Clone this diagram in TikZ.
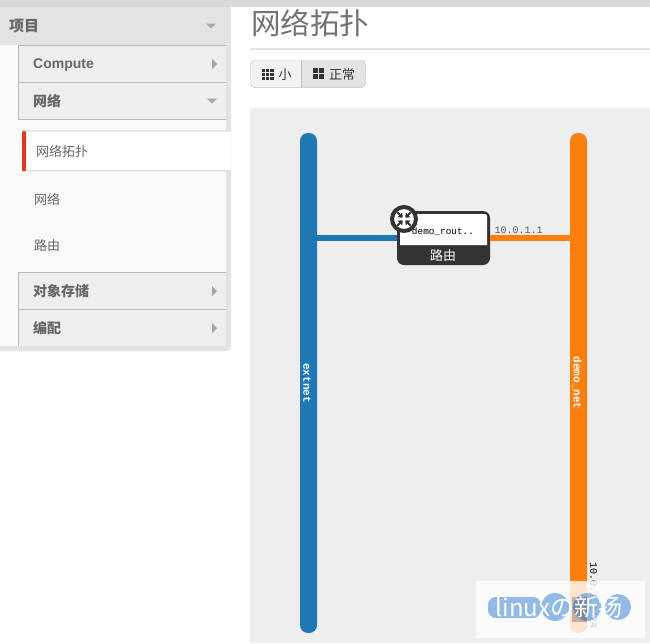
\documentclass[tikz,border=0pt]{standalone}
\usepackage{fontspec}
\setmainfont{Liberation Sans}
\setmonofont{Liberation Mono}
\newfontfamily\cjk{Noto Sans CJK SC}
\usetikzlibrary{positioning}
\definecolor{netblue}{HTML}{1F77B4}
\definecolor{netorange}{HTML}{FF7F0E}
\definecolor{panelgrey}{HTML}{E3E3E3}
\definecolor{rowgrey}{HTML}{EEEEEE}
\definecolor{rowline}{HTML}{B8B8B8}
\definecolor{routerdark}{HTML}{333333}
\definecolor{menutext}{HTML}{666666}
\definecolor{activered}{HTML}{DC3A20}
\definecolor{glowblue}{HTML}{3F86D6}
\tikzset{
	menurow/.style={fill=rowgrey,minimum width=208pt,minimum height=37pt,inner sep=0pt},
	rowedge/.style={draw=rowline,line width=0.9pt},
	menubold/.style={font=\cjk\bfseries\fontsize{14}{14}\selectfont,text=menutext,anchor=west,inner sep=0pt},
	menuitem/.style={font=\cjk\fontsize{13}{13}\selectfont,text=menutext,anchor=west,inner sep=0pt},
	netbar/.style={rounded corners=8pt,minimum width=17pt,minimum height=500pt,inner sep=0pt},
	netname/.style={rotate=-90,text=white,font=\ttfamily\bfseries\fontsize{11}{11}\selectfont,inner sep=0pt},
	arrowgrey/.style={fill=black!35},
}
\begin{document}
\begin{tikzpicture}[x=1pt,y=-1pt]
\useasboundingbox (0,0) rectangle (650,643);
\fill[white] (0,0) rectangle (650,643);
\fill[black!15] (0,0) rectangle (650,7);

% side panel
\fill[panelgrey] (0,7) -- (231,7) [rounded corners=5pt] -- (231,351) [sharp corners] -- (0,351) -- cycle;
\fill[black!2] (0,45) rectangle (226,346);
\node[menubold,font=\cjk\bfseries\fontsize{15}{15}\selectfont] (project) at (9,26.5) {项目};
\node[menurow,anchor=north west] (compute) at (18,45) {};
\node[menurow,anchor=north west] (network) at (18,82) {};
\node[menurow,anchor=north west] (storage) at (18,272) {};
\node[menurow,anchor=north west] (orchestration) at (18,309) {};
\foreach \rowname in {compute,network,storage}
	\draw[rowedge] (\rowname.north east) -- (\rowname.north west) -- (\rowname.south west) -- (\rowname.south east);
\draw[rowedge] (orchestration.north east) -- (orchestration.north west) -- (orchestration.south west);
\node[menubold,font=\bfseries\fontsize{14}{14}\selectfont] (computetext) at (33,65.5) {Compute};
\node[menubold] (networktext) at (33,101.5) {网络};
\node[menubold] (storagetext) at (33,291.5) {对象存储};
\node[menubold] (orchtext) at (33,328.5) {编配};

% active entry
\fill[white] (22,131) rectangle (231,170);
\fill[panelgrey] (22,130) rectangle (231,131.6) (22,170) rectangle (231,171.6);
\fill[activered,rounded corners=1pt] (22,131) rectangle (26,171);
\node[menuitem] (topology) at (36,151.5) {网络拓扑};
\node[menuitem] (networks) at (34,199.5) {网络};
\node[menuitem] (routers) at (34,245.5) {路由};

% little arrows
\fill[arrowgrey] (206,23.5) -- (216,23.5) -- (211,28.5) -- cycle;
\fill[arrowgrey] (207,98.5) -- (217,98.5) -- (212,103.5) -- cycle;
\foreach \ypos in {64,291,328}
	\fill[arrowgrey] (212,\ypos-5) -- (217,\ypos) -- (212,\ypos+5) -- cycle;

% title and buttons
\node[font=\cjk\fontsize{29.5}{29.5}\selectfont,text=black!55,inner sep=0pt] (title) at (310,23.5) {网络拓扑};
\fill[panelgrey] (250,47.5) rectangle (650,50);
\begin{scope}
\clip[rounded corners=4pt] (250.5,60.5) rectangle (365.5,87.5);
\fill[black!5] (250,60) rectangle (301,88);
\fill[black!11] (301,60) rectangle (366,88);
\fill[black!18] (250,86.5) rectangle (366,88);
\end{scope}
\draw[black!25] (301.5,60.5) -- (301.5,87.5);
\draw[black!25,rounded corners=4pt] (250.5,60.5) rectangle (365.5,87.5);
\foreach \i in {0,1,2}
	\foreach \j in {0,1,2}
		\fill[routerdark] (262+\i*4.2,68.5+\j*4.2) rectangle ++(3.2,3.2);
\foreach \i in {0,1}
	\foreach \j in {0,1}
		\fill[routerdark] (313+\i*6.2,68+\j*6.2) rectangle ++(5.2,5.2);
\node[font=\cjk\fontsize{13}{13}\selectfont,text=routerdark,inner sep=0pt] (small) at (285,74.5) {小};
\node[font=\cjk\fontsize{13}{13}\selectfont,text=routerdark,inner sep=0pt] (normal) at (342,74.5) {正常};

% topology
\fill[rowgrey] (250,108) rectangle (650,643);
\node[netbar,fill=netblue] (extnet) at (308.5,383) {};
\node[netbar,fill=netorange] (demonet) at (578.5,383) {};
\node[fill=routerdark,rounded corners=7pt,minimum width=93pt,minimum height=54pt,inner sep=0pt] (router) at (443.5,238) {};
\draw[netblue,line width=6pt] (router.west -| extnet.east) -- (router.west);
\draw[netorange,line width=6pt] (router.east) -- (router.east -| demonet.west);
\node[netname] (extnetname) at (307,383) {extnet};
\node[netname] (demonetname) at (577,383) {demo\_net};

\fill[white] (400,245) [rounded corners=2pt] -- (400,214) -- (487,214) [sharp corners] -- (487,245) -- cycle;
\node[font=\ttfamily\fontsize{9.4}{9.4}\selectfont,inner sep=0pt] (routername) at (443,231.5) {demo\_rout..};
\node[font=\cjk\fontsize{13}{13}\selectfont,text=white,inner sep=0pt] (routertype) at (443,255.5) {路由};
\node[font=\ttfamily\fontsize{10}{10}\selectfont,text=black!65,inner sep=0pt] (portip) at (518.5,230) {10.0.1.1};

% router icon
\node[circle,draw=routerdark,fill=white,line width=4pt,minimum size=24pt,inner sep=0pt] (routericon) at (404,219) {};
\foreach \ang in {45,135,225,315}{
	\begin{scope}[rotate around={\ang:(routericon)}]
		\draw[routerdark,line width=1.8pt] (routericon) ++(5,0) -- ++(4.5,0);
		\fill[routerdark] (routericon) ++(1.8,0) -- ++(4,-3.4) -- ++(0,6.8) -- cycle;
	\end{scope}
}

\node[rotate=-90,anchor=west,font=\ttfamily\fontsize{10}{10}\selectfont,inner sep=0pt] (subnet) at (594,562) {10.0.1.0/24};

% watermark
\fill[white,opacity=0.8] (476,581) rectangle (645,638);
\fill[glowblue,opacity=0.55,rounded corners=8pt] (488,597) rectangle (541,618);
\fill[glowblue,opacity=0.55] (555,607) circle (14) (587,607) circle (14) (618,607) circle (13);
\fill[routerdark,opacity=0.3] (572,597) rectangle (587,622);
\node[font=\cjk\fontsize{24}{24}\selectfont,text=white,inner sep=0pt] (mark) at (559,607) {linuxの新扬};
\end{tikzpicture}
\end{document}
